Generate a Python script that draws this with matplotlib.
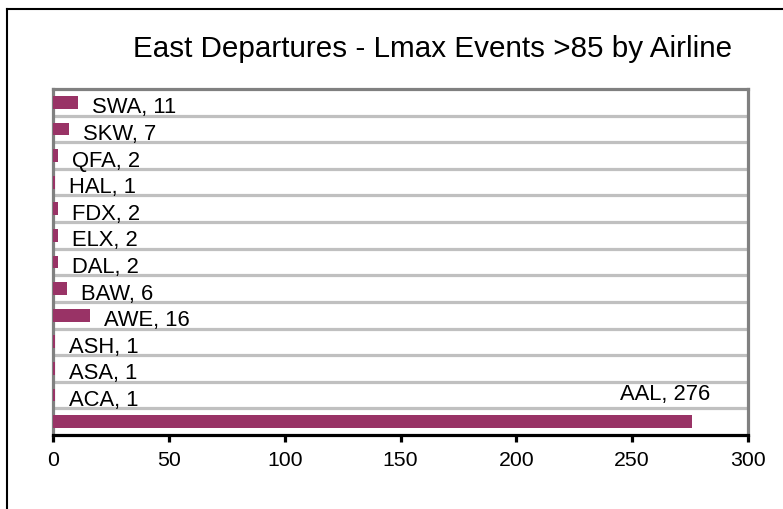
import matplotlib.pyplot as plt
from matplotlib.lines import Line2D

# data, bottom to top as drawn
airlines = ['AAL', 'ACA', 'ASA', 'ASH', 'AWE', 'BAW', 'DAL', 'ELX', 'FDX', 'HAL', 'QFA', 'SKW', 'SWA']
events = [276, 1, 1, 1, 16, 6, 2, 2, 2, 1, 2, 7, 11]

W, H = 783, 510
plt.rcParams['font.family'] = ['Liberation Sans', 'DejaVu Sans']

fig = plt.figure(figsize=(W / 100, H / 100), dpi=100)
ax = fig.add_axes([53 / W, 1 - 436 / H, (748 - 53) / W, (436 - 90) / H])

ypos = list(range(len(airlines)))
ax.barh(ypos, events, height=0.48, color='#993366', zorder=3)

# light gray row separators
for i in range(len(airlines) - 1):
    ax.axhline(i + 0.5, color='#c0c0c0', lw=2.3, zorder=1)

# data labels "NAME, value"
for i, (name, val) in enumerate(zip(airlines, events)):
    if name == 'AAL':
        ax.annotate(f'{name}, {val}', xy=(val, i), xytext=(-19.5, 16.2),
                    textcoords='offset points', ha='center', va='baseline', fontsize=15.8)
    else:
        ax.annotate(f'{name}, {val}', xy=(val, i), xytext=(10, -7.2),
                    textcoords='offset points', ha='left', va='baseline', fontsize=15.8)

ax.set_xlim(0, 300)
ax.set_ylim(-0.5, len(airlines) - 0.5)
ax.set_xticks([0, 50, 100, 150, 200, 250, 300])
ax.set_yticks([])
ax.tick_params(axis='x', direction='out', length=5, width=2.3, color='black',
               labelsize=15.3, pad=6)

ax.spines['left'].set_color('#808080')
ax.spines['left'].set_linewidth(2.3)
ax.spines['top'].set_color('#808080')
ax.spines['top'].set_linewidth(2.3)
ax.spines['right'].set_color('#808080')
ax.spines['right'].set_linewidth(2.3)
ax.spines['bottom'].set_color('black')
ax.spines['bottom'].set_linewidth(2.3)

fig.text(433 / W, 1 - 49 / H, 'East Departures - Lmax Events >85 by Airline',
         ha='center', va='center', fontsize=21.3)

# outer chart frame (only top and left visible)
fig.add_artist(Line2D([7 / W, 1.01], [1 - 10 / H, 1 - 10 / H], color='black', lw=1.5))
fig.add_artist(Line2D([7 / W, 7 / W], [-0.01, 1 - 10 / H], color='black', lw=1.5))

fig.savefig('out.png', dpi=100)
